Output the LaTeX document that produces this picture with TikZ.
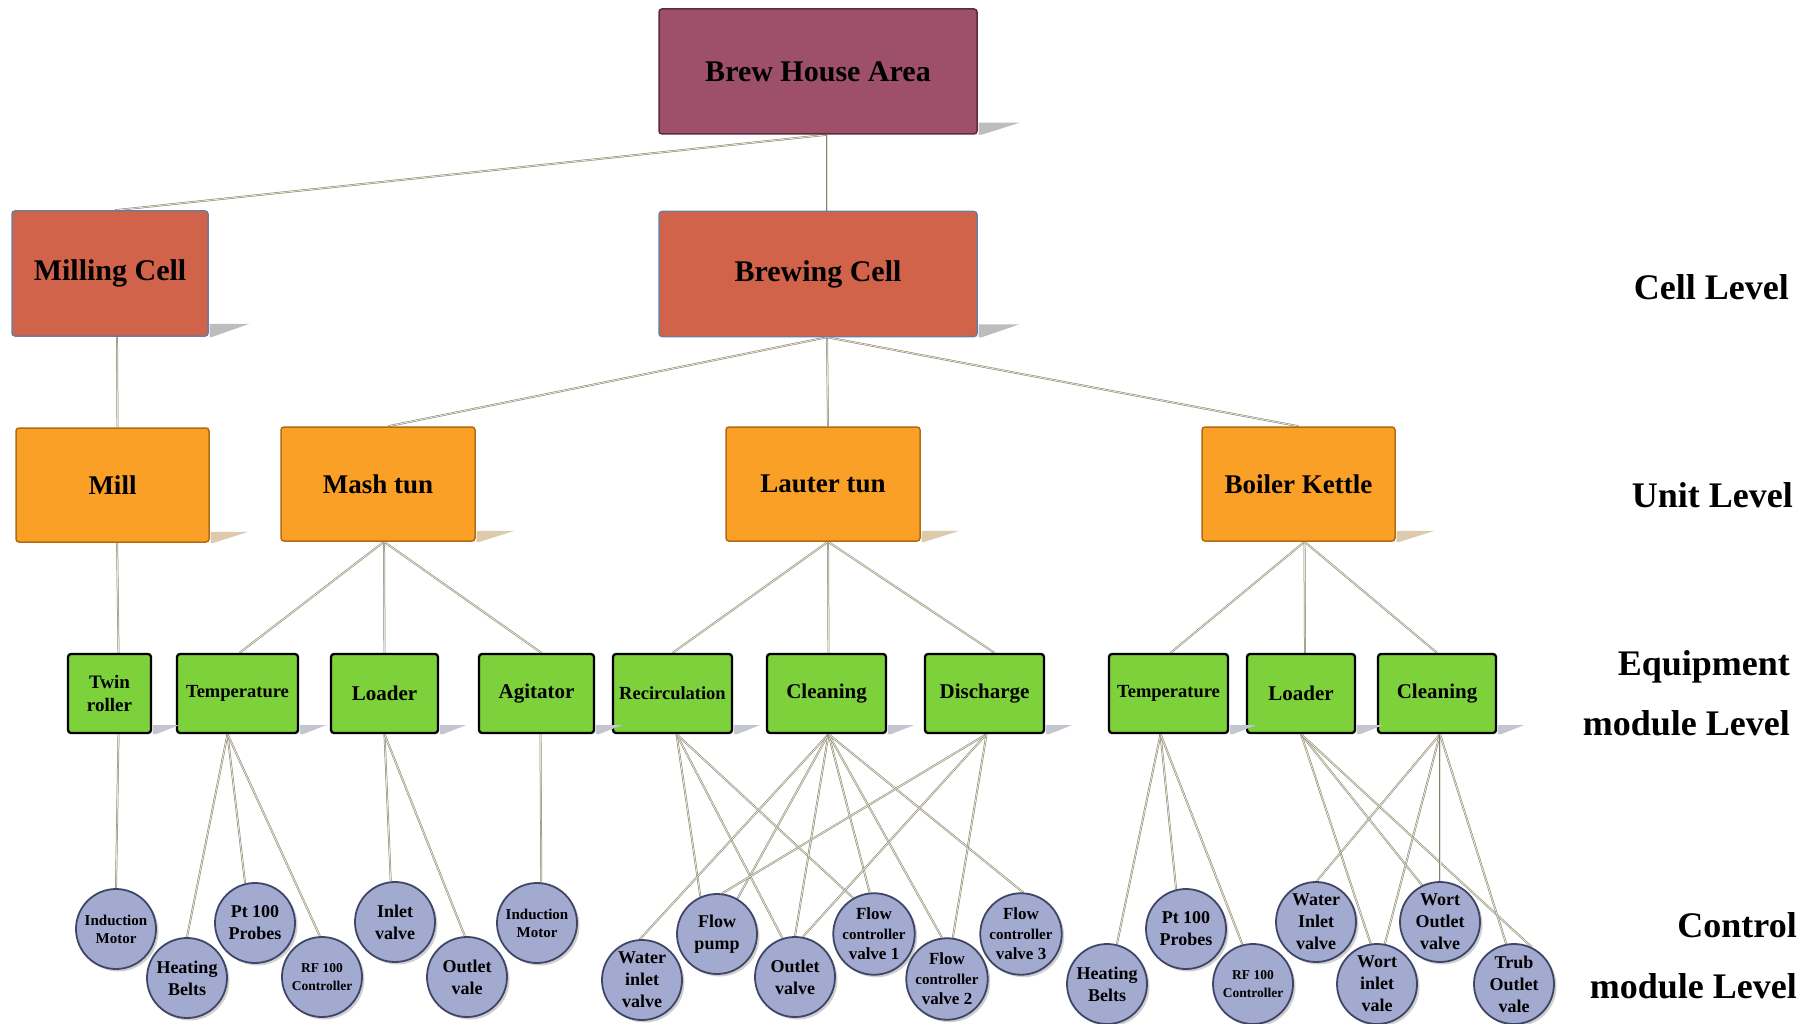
\documentclass[tikz,border=0pt]{standalone}
\usepackage{fontspec}
\setmainfont{Liberation Serif}
\usetikzlibrary{shadows,backgrounds,calc}
\definecolor{brewF}{HTML}{9E4F69}
\definecolor{brewD}{HTML}{5C2A3D}
\definecolor{cellF}{HTML}{D1634A}
\definecolor{cellD}{HTML}{6E7B9B}
\definecolor{unitF}{HTML}{FBA026}
\definecolor{unitD}{HTML}{B36B12}
\definecolor{eqF}{HTML}{7DD13B}
\definecolor{cmF}{HTML}{A3AAD0}
\definecolor{cmD}{HTML}{3E4566}
\definecolor{linkD}{HTML}{84816A}
\definecolor{linkL}{HTML}{E6E4D6}
\definecolor{shGray}{HTML}{BDBDBD}
\definecolor{shTan}{HTML}{DDC9AB}
\definecolor{shBlue}{HTML}{C3C6CF}
\begin{document}
\begin{tikzpicture}[x=1pt,y=-1pt,
  box/.style={rectangle, rounded corners=3pt, inner sep=0pt, align=center},
  areabox/.style={box, fill=brewF, draw=brewD, line width=1.5pt, minimum width=318pt, minimum height=125pt, font=\bfseries\fontsize{30}{34}\selectfont},
  cellbox/.style={box, fill=cellF, draw=cellD, line width=1.5pt, minimum height=125pt, font=\bfseries\fontsize{30}{34}\selectfont},
  unitbox/.style={box, fill=unitF, draw=unitD, line width=1.5pt, minimum width=193pt, minimum height=114pt, font=\bfseries\fontsize{27}{31}\selectfont},
  eqbox/.style={box, fill=eqF, draw=black, line width=2.3pt, minimum height=79pt, font=\bfseries\fontsize{21}{23}\selectfont},
  eqsmall/.style={font=\bfseries\fontsize{18.5}{23}\selectfont},
  ctrlmod/.style={circle, minimum size=80pt, inner sep=0pt, align=center, fill=cmF, draw=cmD, line width=1.8pt,
    drop shadow={shadow xshift=2.5pt, shadow yshift=-2.5pt, opacity=0.3, fill=black!60},
    font=\bfseries\fontsize{18}{22}\selectfont},
  cmsmall/.style={font=\bfseries\fontsize{15}{18}\selectfont},
  cmtiny/.style={font=\bfseries\fontsize{13.5}{18}\selectfont},
  cmflow/.style={font=\bfseries\fontsize{17}{20}\selectfont},
  lvl/.style={anchor=base east, inner sep=0pt, font=\bfseries\fontsize{36}{40}\selectfont},
  link/.style={draw=linkD, line width=0.5pt, double=linkL, double distance=0.9pt},
]
\useasboundingbox (0,0) rectangle (1809,1024);

% ---- boxes
\node[areabox] (brew) at (818,71.5) {Brew House Area};
\node[cellbox, minimum width=196pt] (milling) at (110,273.5) {\raisebox{-2pt}{Milling Cell}};
\node[cellbox, minimum width=318pt] (brewing) at (818,274) {\raisebox{-2pt}{Brewing Cell}};

\node[unitbox] (mill) at (112.5,485) {Mill};
\node[unitbox, minimum width=194pt] (mash) at (378,484) {Mash tun};
\node[unitbox, minimum width=194pt] (lauter) at (823,484) {Lauter tun};
\node[unitbox] (boiler) at (1298.5,484) {Boiler Kettle};

\node[eqbox, minimum width=83pt, font=\bfseries\fontsize{19}{23}\selectfont] (twin) at (109.5,693.5) {Twin\\roller};
\node[eqbox, minimum width=121pt, eqsmall] (temp1) at (237.5,693.5) {Temperature};
\node[eqbox, minimum width=107pt] (loader1) at (384.5,693.5) {Loader};
\node[eqbox, minimum width=115pt] (agit) at (536.5,693.5) {Agitator};
\node[eqbox, minimum width=119pt, eqsmall] (recirc) at (672.5,693.5) {Recirculation};
\node[eqbox, minimum width=119pt] (clean1) at (826.5,693.5) {Cleaning};
\node[eqbox, minimum width=119pt] (disch) at (984.5,693.5) {Discharge};
\node[eqbox, minimum width=119pt, eqsmall] (temp2) at (1168.5,693.5) {Temperature};
\node[eqbox, minimum width=108pt] (loader2) at (1301,693.5) {Loader};
\node[eqbox, minimum width=118pt] (clean2) at (1437,693.5) {Cleaning};

% ---- box shadows
\foreach \n/\w/\h/\c in {brew/41/12/shGray, milling/40/13/shGray, brewing/41/13/shGray,
   mill/38/11/shTan, mash/38/11/shTan, lauter/38/11/shTan, boiler/38/11/shTan,
   twin/26/9/shBlue, temp1/26/9/shBlue, loader1/26/9/shBlue, agit/26/9/shBlue,
   recirc/26/9/shBlue, clean1/26/9/shBlue, disch/26/9/shBlue, temp2/26/9/shBlue,
   loader2/26/9/shBlue, clean2/26/9/shBlue}
  \fill[\c] ([xshift=0.8pt,yshift=\h pt]\n.south east) -- ++(\w,0) -- ([xshift=4pt]\n.south east) -- ([xshift=0.8pt]\n.south east) -- cycle;

% ---- control modules
\node[ctrlmod, cmsmall] (im1) at (116,929) {Induction\\Motor};
\node[ctrlmod] (hb1) at (187,978) {Heating\\Belts};
\node[ctrlmod] (pt1) at (255,923) {Pt 100\\Probes};
\node[ctrlmod, cmtiny] (rf1) at (322,977) {RF 100\\Controller};
\node[ctrlmod] (inv1) at (395,922) {Inlet\\valve};
\node[ctrlmod] (outv1) at (467,977) {Outlet\\vale};
\node[ctrlmod, cmsmall] (im2) at (537,923) {Induction\\Motor};
\node[ctrlmod] (wiv1) at (642,980) {Water\\inlet\\valve};
\node[ctrlmod] (fp) at (717,934) {Flow\\pump};
\node[ctrlmod] (ov) at (795,977) {Outlet\\valve};
\node[ctrlmod, cmflow] (fcv1) at (874,934) {Flow\\{\fontsize{15}{20}\selectfont controller}\\valve 1};
\node[ctrlmod, cmflow] (fcv2) at (947,979) {Flow\\{\fontsize{15}{20}\selectfont controller}\\valve 2};
\node[ctrlmod, cmflow] (fcv3) at (1021,934) {Flow\\{\fontsize{15}{20}\selectfont controller}\\valve 3};
\node[ctrlmod] (hb2) at (1107,984) {Heating\\Belts};
\node[ctrlmod] (pt2) at (1186,929) {Pt 100\\Probes};
\node[ctrlmod, cmtiny] (rf2) at (1253,984) {RF 100\\Controller};
\node[ctrlmod] (wiv2) at (1316,922) {Water\\Inlet\\valve};
\node[ctrlmod] (wortin) at (1377,984) {Wort\\inlet\\vale};
\node[ctrlmod] (wortout) at (1440,922) {Wort\\Outlet\\valve};
\node[ctrlmod] (trub) at (1514,984) {Trub\\Outlet\\vale};

% ---- level labels
\node[lvl] (lcell) at (1789,299) {Cell Level};
\node[lvl] (lunit) at (1793,507) {Unit Level};
\node[lvl] (leq1) at (1790,675) {Equipment};
\node[lvl] (leq2) at (1790,735) {module Level};
\node[lvl] (lcm1) at (1797,937) {Control};
\node[lvl] (lcm2) at (1797,998) {module Level};

% ---- connectors
\begin{pgfonlayer}{background}
\fill[white] (0,0) rectangle (1809,1024);
\draw[link] ([xshift=9pt]brew.south) -- ([xshift=5pt]milling.north);
\draw[link] ([xshift=9pt]brew.south) -- ([xshift=9pt]brewing.north);
\draw[link] ([xshift=7pt]milling.south) -- ([xshift=5pt]mill.north);
\draw[link] ([xshift=9pt]brewing.south) -- ([xshift=10pt]mash.north);
\draw[link] ([xshift=9pt]brewing.south) -- ([xshift=5pt]lauter.north);
\draw[link] ([xshift=9pt]brewing.south) -- (boiler.north);

\draw[link] ([xshift=4.6pt]mill.south) -- ([xshift=9pt]twin.north);
\draw[link] ([xshift=6pt]mash.south) -- ([xshift=2pt]temp1.north);
\draw[link] ([xshift=6pt]mash.south) -- (loader1.north);
\draw[link] ([xshift=6pt]mash.south) -- ([xshift=5pt]agit.north);
\draw[link] ([xshift=5pt]lauter.south) -- (recirc.north);
\draw[link] ([xshift=5pt]lauter.south) -- ([xshift=2pt]clean1.north);
\draw[link] ([xshift=5pt]lauter.south) -- ([xshift=10pt]disch.north);
\draw[link] ([xshift=6pt]boiler.south) -- ([xshift=2pt]temp2.north);
\draw[link] ([xshift=6pt]boiler.south) -- ([xshift=4pt]loader2.north);
\draw[link] ([xshift=6pt]boiler.south) -- (clean2.north);

\draw[link] ([xshift=9pt]twin.south) -- (im1.north);
\draw[link] ([xshift=-10pt]temp1.south) -- (hb1.90);
\draw[link] ([xshift=-10pt]temp1.south) -- (pt1.104);
\draw[link] ([xshift=-10pt]temp1.south) -- (rf1.93);
\draw[link] (loader1.south) -- (inv1.96);
\draw[link] (loader1.south) -- (outv1.93);
\draw[link] ([xshift=4pt]agit.south) -- (im2.84);

\draw[link] ([xshift=4pt]recirc.south) -- (fp.114);
\draw[link] ([xshift=4pt]recirc.south) -- (ov.108);
\draw[link] ([xshift=4pt]recirc.south) -- (fcv1.120);
\draw[link] ([xshift=2pt]clean1.south) -- (wiv1.93);
\draw[link] ([xshift=2pt]clean1.south) -- (fp.60);
\draw[link] ([xshift=2pt]clean1.south) -- (ov.90);
\draw[link] ([xshift=2pt]clean1.south) -- (fcv1.96);
\draw[link] ([xshift=2pt]clean1.south) -- (fcv2.97);
\draw[link] ([xshift=2pt]clean1.south) -- (fcv3.87);
\draw[link] ([xshift=2pt]disch.south) -- (fp.83);
\draw[link] ([xshift=2pt]disch.south) -- (ov.79);
\draw[link] ([xshift=2pt]disch.south) -- (fcv2.82);

\draw[link] ([xshift=-8pt]temp2.south) -- (hb2.76);
\draw[link] ([xshift=-8pt]temp2.south) -- (pt2.104);
\draw[link] ([xshift=-8pt]temp2.south) -- (rf2.105);
\draw[link] (loader2.south) -- (wortin.99);
\draw[link] (loader2.south) -- (wortout.116);
\draw[link] (loader2.south) -- (trub.64);
\draw[link] ([xshift=3pt]clean2.south) -- (wiv2.89);
\draw[link] ([xshift=3pt]clean2.south) -- (wortin.79);
\draw[link] ([xshift=3pt]clean2.south) -- (wortout.90);
\draw[link] ([xshift=3pt]clean2.south) -- (trub.101);
\end{pgfonlayer}
\end{tikzpicture}
\end{document}
